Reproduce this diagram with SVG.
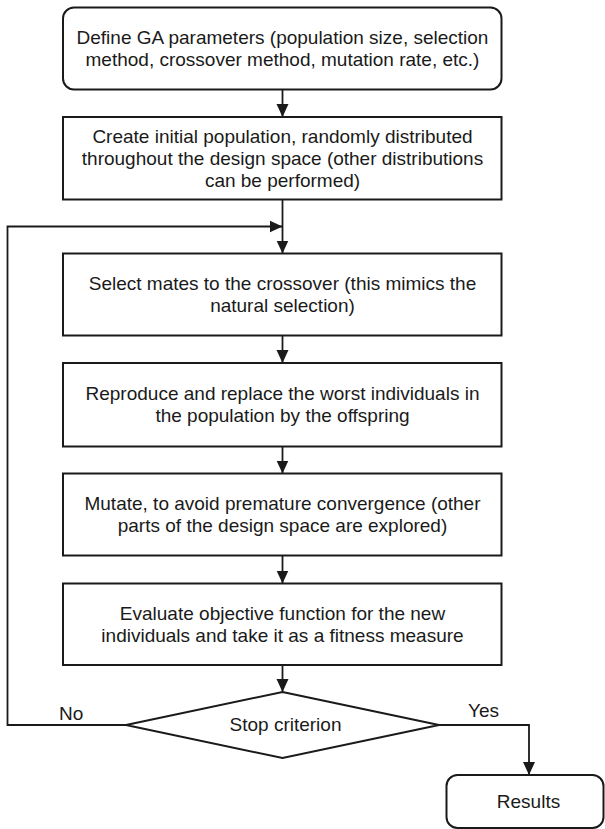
<svg xmlns="http://www.w3.org/2000/svg" width="605" height="829" viewBox="0 0 605 829">
  <style>
    .box { fill: #ffffff; stroke: #1a1a1a; stroke-width: 2; }
    .link { fill: none; stroke: #1a1a1a; stroke-width: 1.8; }
    .label { font-family: "Liberation Sans", Arial, Helvetica, sans-serif; font-size: 19px; fill: #1a1a1a; text-anchor: middle; }
    .side { font-family: "Liberation Sans", Arial, Helvetica, sans-serif; font-size: 19px; fill: #1a1a1a; }
  </style>
  <defs>
    <marker id="arrow" markerWidth="13" markerHeight="13" refX="13" refY="6.5" orient="auto" markerUnits="userSpaceOnUse">
      <path d="M0,0.5 L13,6.5 L0,12.5 Z" fill="#1a1a1a"/>
    </marker>
  </defs>
  <rect width="605" height="829" fill="#ffffff"/>

  <!-- connectors -->
  <g id="connectors">
    <path class="link" d="M282.5,89.5 V117" marker-end="url(#arrow)"/>
    <path class="link" d="M282.5,199.5 V253.5" marker-end="url(#arrow)"/>
    <path class="link" d="M282.5,335.5 V363" marker-end="url(#arrow)"/>
    <path class="link" d="M282.5,446.5 V473.5" marker-end="url(#arrow)"/>
    <path class="link" d="M282.5,555.5 V583.5" marker-end="url(#arrow)"/>
    <path class="link" d="M282.5,665 V692" marker-end="url(#arrow)"/>
    <path class="link" d="M126,725 H7.5 V226.5 H282.5" marker-end="url(#arrow)"/>
    <path class="link" d="M439,725 H529 V775" marker-end="url(#arrow)"/>
    <text class="side" x="59" y="720">No</text>
    <text class="side" x="468" y="717">Yes</text>
  </g>

  <g id="define-parameters">
    <rect class="box" x="63" y="7.5" width="438.5" height="82" rx="11" ry="11"/>
    <text class="label" x="282.5" y="44">Define GA parameters (population size, selection</text>
    <text class="label" x="282.5" y="66">method, crossover method, mutation rate, etc.)</text>
  </g>

  <g id="initial-population">
    <rect class="box" x="63" y="117" width="438.5" height="82.5"/>
    <text class="label" x="282.5" y="143">Create initial population, randomly distributed</text>
    <text class="label" x="282.5" y="165">throughout the design space (other distributions</text>
    <text class="label" x="282.5" y="187">can be performed)</text>
  </g>

  <g id="select-mates">
    <rect class="box" x="63" y="253.5" width="438.5" height="82"/>
    <text class="label" x="282.5" y="290">Select mates to the crossover (this mimics the</text>
    <text class="label" x="282.5" y="312">natural selection)</text>
  </g>

  <g id="reproduce">
    <rect class="box" x="63" y="363" width="438.5" height="83.5"/>
    <text class="label" x="282.5" y="400">Reproduce and replace the worst individuals in</text>
    <text class="label" x="282.5" y="422">the population by the offspring</text>
  </g>

  <g id="mutate">
    <rect class="box" x="63" y="473.5" width="438.5" height="82"/>
    <text class="label" x="282.5" y="510">Mutate, to avoid premature convergence (other</text>
    <text class="label" x="282.5" y="532">parts of the design space are explored)</text>
  </g>

  <g id="evaluate">
    <rect class="box" x="63" y="583.5" width="438.5" height="81.5"/>
    <text class="label" x="282.5" y="620">Evaluate objective function for the new</text>
    <text class="label" x="282.5" y="642">individuals and take it as a fitness measure</text>
  </g>

  <g id="stop-criterion">
    <path class="box" d="M282.5,692 L439,725 L282.5,758 L126,725 Z"/>
    <text class="label" x="285.5" y="731">Stop criterion</text>
  </g>

  <g id="results">
    <rect class="box" x="446.5" y="775" width="157" height="53" rx="11" ry="11"/>
    <text class="label" x="528.5" y="808">Results</text>
  </g>
</svg>
